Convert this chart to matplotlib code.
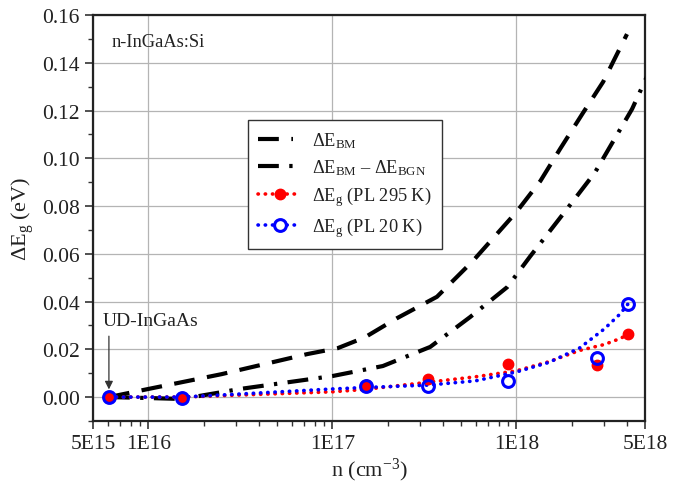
import numpy as np
import matplotlib
matplotlib.use("Agg")
import matplotlib.pyplot as plt
from matplotlib.lines import Line2D
from matplotlib.ticker import FixedLocator, LogLocator, MultipleLocator, NullFormatter

plt.rcParams['font.family'] = ['Liberation Serif', 'DejaVu Serif']
plt.rcParams['mathtext.fontset'] = 'custom'
plt.rcParams['mathtext.rm'] = 'Liberation Serif'
plt.rcParams['mathtext.it'] = 'Liberation Serif:italic'
plt.rcParams['mathtext.default'] = 'regular'

# measured points (PL)
n_pl = [6.1e15, 1.52e16, 1.52e17, 3.31e17, 9.0e17, 2.74e18, 4.04e18]
dEg_295 = [0.0, -0.0003, 0.0050, 0.0075, 0.0138, 0.0134, 0.0264]
dEg_20 = [0.0, -0.0003, 0.0046, 0.0046, 0.0067, 0.0163, 0.0390]

# fitted curves for the PL data
n_fit = [6.1e15, 1.0e16, 1.52e16, 3.0e16, 1.0e17, 1.5e17, 3.3e17, 6.0e17, 1.0e18,
         1.5e18, 2.2e18, 3.0e18, 3.66e18, 4.04e18]
fit_295 = [0.0, 0.0, 0.0, 0.0008, 0.0022, 0.0032, 0.0062, 0.0085, 0.011,
           0.0148, 0.0195, 0.022, 0.0245, 0.0262]
fit_20 = [0.0, 0.0, 0.0, 0.0012, 0.0034, 0.0040, 0.0050, 0.0068, 0.0105,
          0.0145, 0.0205, 0.0285, 0.0348, 0.0390]

# Burstein-Moss shift
n_bm = [6.1e15, 1.0e16, 2.5e16, 7.3e16, 1.07e17, 1.5e17, 2.24e17, 3.7e17, 5.8e17,
        1.0e18, 1.35e18, 1.73e18, 2.3e18, 2.96e18, 3.99e18]
dE_bm = [0.0, 0.0034, 0.0096, 0.018, 0.0205, 0.025, 0.033, 0.042, 0.057,
         0.0775, 0.0905, 0.104, 0.119, 0.132, 0.152]

# Burstein-Moss minus band gap narrowing
n_bgn = [6.1e15, 1.0e16, 1.52e16, 3.15e16, 1.0e17, 1.88e17, 3.4e17, 5.6e17, 8.9e17,
         1.19e18, 1.88e18, 2.67e18, 3.35e18, 4.25e18, 4.9e18, 5.4e18]
dE_bgn = [0.0, -0.0004, -0.0008, 0.0034, 0.0088, 0.013, 0.021, 0.0335, 0.046,
          0.059, 0.0787, 0.094, 0.107, 0.1206, 0.131, 0.138]

fig = plt.figure(figsize=(6.87, 4.85), dpi=100)
ax = fig.add_axes([0.1354, 0.13, 0.8035, 0.837])

ax.plot(n_bm, dE_bm, color='black', lw=3, dashes=(5, 3), zorder=3)
ax.plot(n_bgn, dE_bgn, color='black', lw=3, dashes=(5, 2.5, 0.8, 2.5), zorder=3)
ax.plot(n_fit, fit_295, color='red', lw=2.6, ls=(0, (0.1, 1.9)), dash_capstyle='round', zorder=4)
ax.plot(n_fit, fit_20, color='blue', lw=2.6, ls=(0, (0.1, 1.9)), dash_capstyle='round', zorder=4)
ax.plot(n_pl, dEg_295, 'o', color='red', ms=7.5, mec='red', zorder=5)
ax.plot(n_pl, dEg_20, 'o', mfc='none', mec='blue', ms=8.5, mew=2.2, zorder=6)

ax.set_xscale('log')
ax.set_xlim(5e15, 5e18)
ax.set_ylim(-0.01, 0.16)
ax.xaxis.set_major_locator(FixedLocator([5e15, 1e16, 1e17, 1e18, 5e18]))
ax.set_xticklabels(['5E15', '1E16', '1E17', '1E18', '5E18'])
ax.xaxis.set_minor_locator(LogLocator(base=10, subs=np.arange(2, 10)))
ax.xaxis.set_minor_formatter(NullFormatter())
ax.yaxis.set_major_locator(MultipleLocator(0.02))
ax.yaxis.set_minor_locator(MultipleLocator(0.01))
ax.yaxis.set_major_formatter(plt.FormatStrFormatter('%.2f'))

ax.grid(True, which='major', color='#b4b4b4', lw=0.9)
ax.set_axisbelow(True)
ax.tick_params(which='major', direction='out', length=6, width=1.2, labelsize=15.5,
               top=False, right=False, colors='#333333', labelcolor='#222222')
ax.tick_params(which='minor', direction='out', length=3.5, width=1.0, top=False, right=False,
               colors='#333333')
for s in ax.spines.values():
    s.set_linewidth(1.6)
    s.set_color('#222222')

ax.set_xlabel('n (cm$^{-3}$)', fontsize=16, labelpad=2, color='#222222')
ax.set_ylabel('ΔE$_{g}$ (eV)', fontsize=16, labelpad=4, color='#222222')

ax.text(0.034, 0.935, 'n-InGaAs:Si', transform=ax.transAxes, fontsize=13.3,
        ha='left', va='center', color='#222222')
ax.annotate('', xy=(6.1e15, 0.0032), xytext=(6.1e15, 0.0255),
            arrowprops=dict(arrowstyle='-|>', color='#333333', lw=0.9,
                            mutation_scale=12, shrinkA=0, shrinkB=0))
ax.text(5.65e15, 0.0285, 'UD-InGaAs', fontsize=14, ha='left', va='bottom', color='#222222')

handles = [
    Line2D([], [], color='black', lw=3, dashes=(5, 3, 0.4, 3)),
    Line2D([], [], color='black', lw=3, dashes=(5, 2.5, 0.8, 2.5)),
    Line2D([], [], color='red', lw=2.6, ls=(0, (0.1, 1.9)), dash_capstyle='round',
           marker='o', ms=7.5),
    Line2D([], [], color='blue', lw=2.6, ls=(0, (0.1, 1.9)), dash_capstyle='round',
           marker='o', mfc='white', mec='blue', ms=8.5, mew=2.2),
]
labels = ['ΔE$_{BM}$', 'ΔE$_{BM}$ – ΔE$_{BGN}$', 'ΔE$_{g}$ (PL 295 K)', 'ΔE$_{g}$ (PL 20 K)']
leg = ax.legend(handles, labels, loc='upper left', bbox_to_anchor=(0.2808, 0.7414),
                borderaxespad=0, fontsize=13.2, frameon=True, fancybox=False,
                edgecolor='#333333', framealpha=1, handlelength=2.35, handletextpad=0.6,
                borderpad=0.55, labelspacing=0.4)
leg.get_frame().set_linewidth(1.0)
for t in leg.get_texts():
    t.set_color('#222222')

fig.savefig('out.png', dpi=100)
